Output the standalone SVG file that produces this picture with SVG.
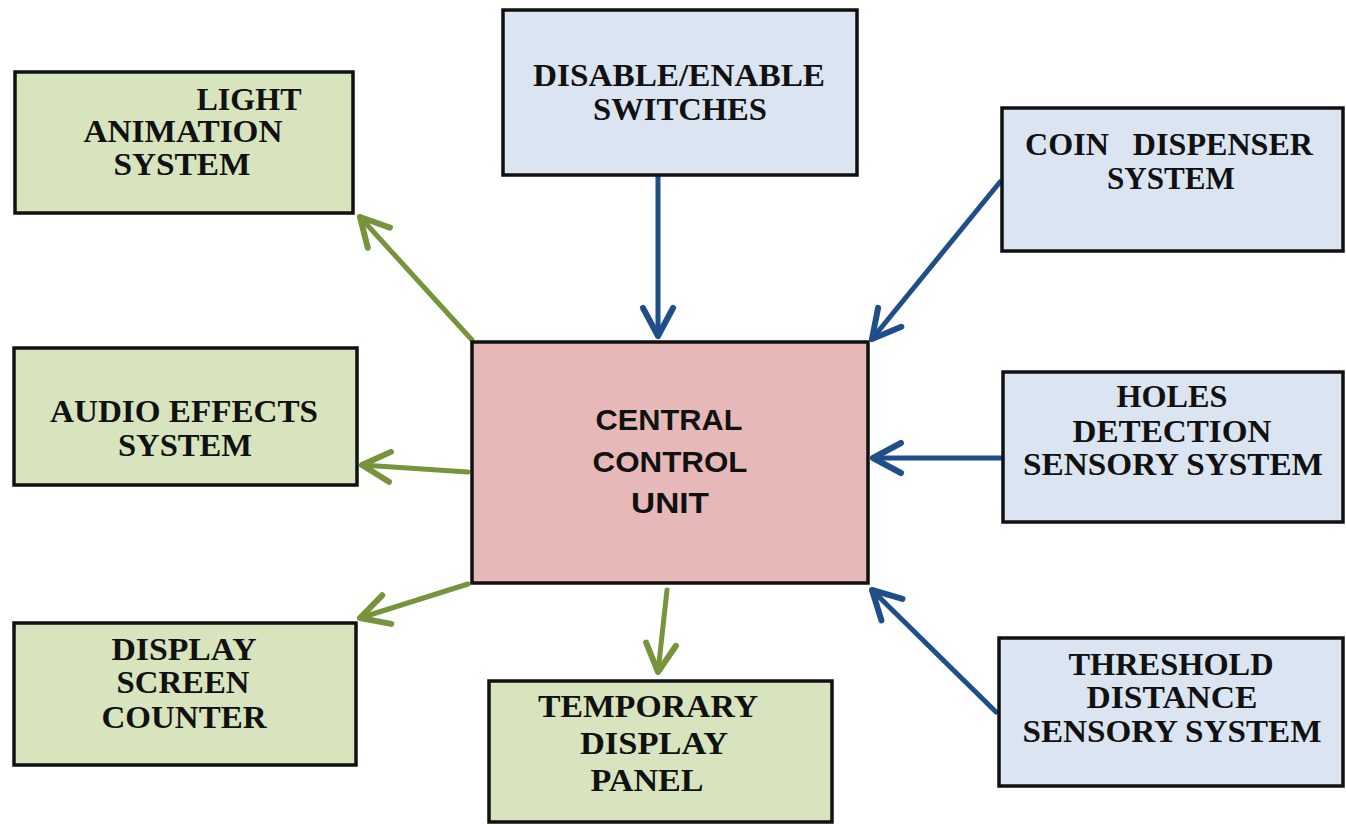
<svg xmlns="http://www.w3.org/2000/svg" width="1346" height="825" viewBox="0 0 1346 825">
<style>
.box{stroke:#111;stroke-width:3.5}
.g{fill:#D7E4BD}
.b{fill:#DBE5F1}
.p{fill:#E6B9B8}
.t{font-family:"Liberation Serif","Times New Roman",serif;font-weight:bold;font-size:32px;fill:#111;text-anchor:middle}
.c{font-family:"Liberation Sans",Arial,sans-serif;font-weight:bold;font-size:30px;fill:#111;text-anchor:middle}
.lg{stroke:#77933C;stroke-width:5;fill:none;stroke-linecap:round}
.lb{stroke:#1F4E89;stroke-width:5;fill:none;stroke-linecap:round}
</style>
<defs>
<marker id="ag" markerUnits="userSpaceOnUse" markerWidth="60" markerHeight="60" viewBox="-40 -30 60 60" refX="0" refY="0" orient="auto" overflow="visible">
<path d="M-28,-15 L0,0 L-28,15" fill="none" stroke="#77933C" stroke-width="6" stroke-linecap="round" stroke-linejoin="round"/>
</marker>
<marker id="ab" markerUnits="userSpaceOnUse" markerWidth="60" markerHeight="60" viewBox="-40 -30 60 60" refX="0" refY="0" orient="auto" overflow="visible">
<path d="M-28,-15 L0,0 L-28,15" fill="none" stroke="#1F4E89" stroke-width="6" stroke-linecap="round" stroke-linejoin="round"/>
</marker>
</defs>
<rect width="1346" height="825" fill="#fff"/>
<g id="connectors">
<line class="lg" x1="472" y1="340" x2="360" y2="217" marker-end="url(#ag)"/>
<line class="lg" x1="468" y1="472" x2="362" y2="465" marker-end="url(#ag)"/>
<line class="lg" x1="468" y1="584" x2="360" y2="618" marker-end="url(#ag)"/>
<line class="lg" x1="667" y1="590" x2="658" y2="672" marker-end="url(#ag)"/>
<line class="lb" x1="658" y1="177" x2="658" y2="336" marker-end="url(#ab)"/>
<line class="lb" x1="1000" y1="182" x2="872" y2="339" marker-end="url(#ab)"/>
<line class="lb" x1="1001" y1="458" x2="873" y2="458" marker-end="url(#ab)"/>
<line class="lb" x1="996" y1="712" x2="872" y2="590" marker-end="url(#ab)"/>
</g>
<g id="light">
<rect class="box g" x="15" y="72" width="338" height="141"/>
<text class="t" x="249" y="110" textLength="105" lengthAdjust="spacingAndGlyphs">LIGHT</text>
<text class="t" x="183" y="142" textLength="199" lengthAdjust="spacingAndGlyphs">ANIMATION</text>
<text class="t" x="182" y="175" textLength="137" lengthAdjust="spacingAndGlyphs">SYSTEM</text>
</g>
<g id="audio">
<rect class="box g" x="14" y="348" width="343" height="137"/>
<text class="t" x="184" y="422" textLength="268" lengthAdjust="spacingAndGlyphs">AUDIO EFFECTS</text>
<text class="t" x="185" y="456" textLength="134" lengthAdjust="spacingAndGlyphs">SYSTEM</text>
</g>
<g id="display">
<rect class="box g" x="14" y="623" width="342" height="142"/>
<text class="t" x="184" y="660" textLength="145" lengthAdjust="spacingAndGlyphs">DISPLAY</text>
<text class="t" x="183" y="693" textLength="133" lengthAdjust="spacingAndGlyphs">SCREEN</text>
<text class="t" x="184" y="728" textLength="165" lengthAdjust="spacingAndGlyphs">COUNTER</text>
</g>
<g id="temporary">
<rect class="box g" x="489" y="681" width="343" height="141"/>
<text class="t" x="648" y="717" textLength="220" lengthAdjust="spacingAndGlyphs">TEMPORARY</text>
<text class="t" x="654" y="754" textLength="148" lengthAdjust="spacingAndGlyphs">DISPLAY</text>
<text class="t" x="647" y="791" textLength="113" lengthAdjust="spacingAndGlyphs">PANEL</text>
</g>
<g id="disable">
<rect class="box b" x="503" y="10" width="354" height="165"/>
<text class="t" x="679" y="86" textLength="292" lengthAdjust="spacingAndGlyphs">DISABLE/ENABLE</text>
<text class="t" x="680" y="120" textLength="174" lengthAdjust="spacingAndGlyphs">SWITCHES</text>
</g>
<g id="coin">
<rect class="box b" x="1002" y="108" width="341" height="143"/>
<text class="t" x="1025" y="155" style="text-anchor:start;white-space:pre" xml:space="preserve" textLength="288" lengthAdjust="spacingAndGlyphs">COIN   DISPENSER</text>
<text class="t" x="1171" y="189" textLength="128" lengthAdjust="spacingAndGlyphs">SYSTEM</text>
</g>
<g id="holes">
<rect class="box b" x="1003" y="372" width="340" height="150"/>
<text class="t" x="1172" y="407" textLength="111" lengthAdjust="spacingAndGlyphs">HOLES</text>
<text class="t" x="1172" y="442" textLength="199" lengthAdjust="spacingAndGlyphs">DETECTION</text>
<text class="t" x="1173" y="475" textLength="300" lengthAdjust="spacingAndGlyphs">SENSORY SYSTEM</text>
</g>
<g id="threshold">
<rect class="box b" x="999" y="638" width="344" height="148"/>
<text class="t" x="1171" y="675" textLength="205" lengthAdjust="spacingAndGlyphs">THRESHOLD</text>
<text class="t" x="1172" y="708" textLength="171" lengthAdjust="spacingAndGlyphs">DISTANCE</text>
<text class="t" x="1172" y="742" textLength="299" lengthAdjust="spacingAndGlyphs">SENSORY SYSTEM</text>
</g>
<g id="central">
<rect class="box p" x="472" y="342" width="396" height="241"/>
<text class="c" x="669" y="430" textLength="147" lengthAdjust="spacingAndGlyphs">CENTRAL</text>
<text class="c" x="670" y="472" textLength="155" lengthAdjust="spacingAndGlyphs">CONTROL</text>
<text class="c" x="670" y="513" textLength="78" lengthAdjust="spacingAndGlyphs">UNIT</text>
</g>
</svg>
